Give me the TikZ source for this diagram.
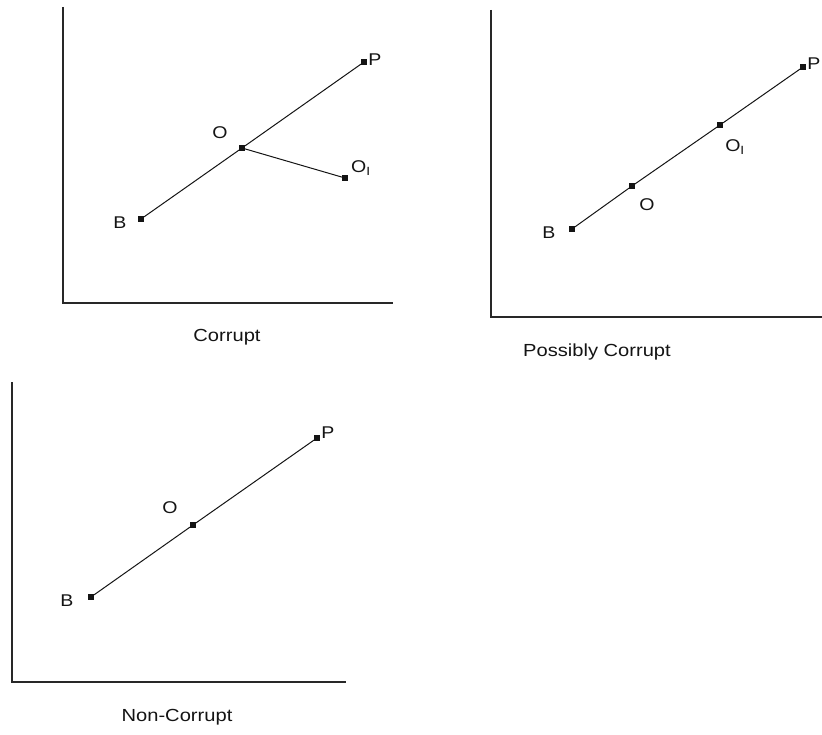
\documentclass[tikz,border=0pt]{standalone}
\usepackage{fontspec}
\setmainfont{Liberation Sans}
\newfontfamily\widesans[FakeStretch=1.15]{Liberation Sans}
\usepackage{tikz}
\definecolor{ink}{RGB}{20,20,20}
\definecolor{axisgray}{RGB}{40,40,40}

\tikzset{
  pt/.style={fill=ink,draw=none,minimum size=6pt,inner sep=0pt,outer sep=0pt},
  lab/.style={text=ink,font=\widesans\fontsize{17}{19}\selectfont,inner sep=0pt},
  captxt/.style={text=ink,font=\widesans\fontsize{17.5}{19}\selectfont,inner sep=0pt},
  seg/.style={ink,line width=1pt},
  axis/.style={axisgray,line width=1.6pt}
}

\begin{document}
\begin{tikzpicture}[x=1pt,y=-1pt]
  \useasboundingbox (0,0) rectangle (822,735);
  % axes
  \coordinate (a1top) at (63,7);
  \coordinate (a1org) at (63,303);
  \coordinate (a1end) at (393,303);
  \coordinate (a2top) at (491,10);
  \coordinate (a2org) at (491,317);
  \coordinate (a2end) at (822,317);
  \coordinate (a3top) at (12,382);
  \coordinate (a3org) at (12,682);
  \coordinate (a3end) at (346,682);
  \foreach \k in {1,2,3}{
     \draw[axis] (a\k top) -- (a\k org) -- (a\k end);
  }
  % corrupt
  \node[pt] (b1) at (141,219) {};
  \node[pt] (o1) at (242,148) {};
  \node[pt] (p1) at (364,62) {};
  \node[pt] (q1) at (345,178) {};
  \draw[seg] (b1) -- (o1) -- (p1);
  \draw[seg] (o1) -- (q1);
  \node[lab] at (120,223) {B};
  \node[lab] at (220,133) {O};
  \node[lab] at (375,60) {P};
  \node[lab] at (361,168) {O\textsubscript{I}};
  \node[captxt] (c1) at (227,337) {Corrupt};
  % possibly corrupt
  \node[pt] (b2) at (572,229) {};
  \node[pt] (o2) at (632,186) {};
  \node[pt] (q2) at (720,125) {};
  \node[pt] (p2) at (803,67) {};
  \draw[seg] (b2) -- (o2) -- (q2) -- (p2);
  \node[lab] at (549,233) {B};
  \node[lab] at (647,205) {O};
  \node[lab] at (735,147) {O\textsubscript{I}};
  \node[lab] at (814,64) {P};
  \node[captxt] (c2) at (597,352) {Possibly Corrupt};
  % non-corrupt
  \node[pt] (b3) at (91,597) {};
  \node[pt] (o3) at (193,525) {};
  \node[pt] (p3) at (317,438) {};
  \draw[seg] (b3) -- (o3) -- (p3);
  \node[lab] at (67,601) {B};
  \node[lab] at (170,508) {O};
  \node[lab] at (328,433) {P};
  \node[captxt] (c3) at (177,717) {Non-Corrupt};
\end{tikzpicture}
\end{document}
